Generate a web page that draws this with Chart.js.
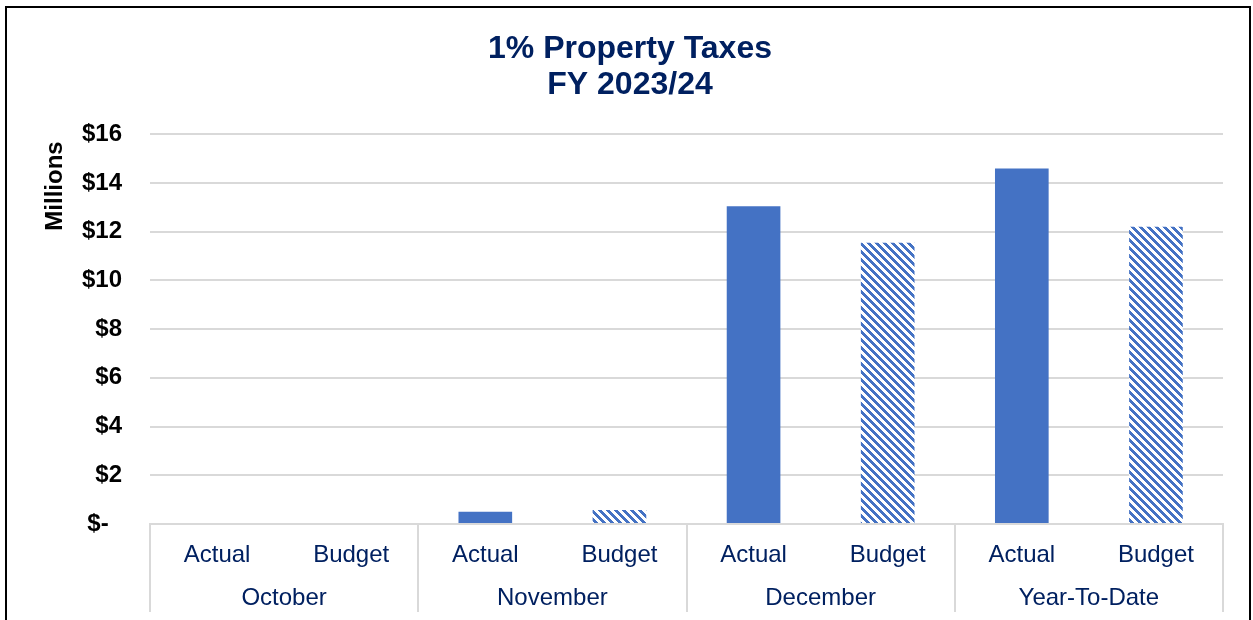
<!DOCTYPE html>
<html>
<head>
<meta charset="utf-8">
<script src="https://cdn.jsdelivr.net/npm/chart.js@4.4.1/dist/chart.umd.min.js"></script>
<style>
  html, body { margin: 0; padding: 0; background: #fff; }
  #wrap { position: relative; width: 1253px; height: 620px; overflow: hidden; }
  #frame {
    position: absolute; left: 5px; top: 6px; width: 1242px; height: 700px;
    border: 2px solid #000; pointer-events: none;
  }
</style>
</head>
<body>
<div id="wrap">
  <canvas id="taxChart"></canvas>
  <div id="frame"></div>
</div>
<script>
// Property tax receipts, in millions
const categories = ['Actual', 'Budget', 'Actual', 'Budget', 'Actual', 'Budget', 'Actual', 'Budget'];
const groups = ['October', 'November', 'December', 'Year-To-Date'];
const amounts = [0, 0, 0.5, 0.57, 13.05, 11.55, 14.6, 12.2];
const yMax = 16;
const yStep = 2;

const NAVY = '#002060';
const BAR_BLUE = '#4472C4';
const GRID = '#d9d9d9';
const FONT = "'Liberation Sans', Arial, sans-serif";

// downward diagonal hatch used for the budget bars
function makeHatch() {
    const size = 8;
    const c = document.createElement('canvas');
    c.width = size;
    c.height = size;
    const ctx = c.getContext('2d');
    ctx.fillStyle = '#fff';
    ctx.fillRect(0, 0, size, size);
    ctx.fillStyle = BAR_BLUE;
    for (let y = 0; y < size; y++) {
        for (let x = 0; x < size; x++) {
            if (((x - y) % size + size) % size < 4) ctx.fillRect(x, y, 1, 1);
        }
    }
    return ctx.createPattern(c, 'repeat');
}

const hatch = makeHatch();
const barColors = categories.map(c => c === 'Budget' ? hatch : BAR_BLUE);

// group labels, group separators and the rotated axis title
const axisExtras = {
    id: 'axisExtras',
    afterDraw(chart) {
        const ctx = chart.ctx;
        const x = chart.scales.x;
        const area = chart.chartArea;
        const slot = (x.getPixelForValue(1) - x.getPixelForValue(0));

        ctx.save();
        ctx.strokeStyle = GRID;
        ctx.lineWidth = 2;
        for (let i = 0; i <= groups.length; i++) {
            const px = Math.round(x.getPixelForValue(i * 2) - slot / 2);
            ctx.beginPath();
            ctx.moveTo(px, area.bottom);
            ctx.lineTo(px, 612);
            ctx.stroke();
        }

        ctx.fillStyle = NAVY;
        ctx.font = '24px ' + FONT;
        ctx.textAlign = 'center';
        ctx.textBaseline = 'middle';
        groups.forEach((g, i) => {
            const cx = (x.getPixelForValue(i * 2) + x.getPixelForValue(i * 2 + 1)) / 2;
            ctx.fillText(g, cx, 598);
        });

        ctx.translate(55, 186);
        ctx.rotate(-Math.PI / 2);
        ctx.fillStyle = '#000';
        ctx.font = 'bold 24px ' + FONT;
        ctx.fillText('Millions', 0, 0);
        ctx.restore();
    }
};

new Chart(document.getElementById('taxChart'), {
    type: 'bar',
    data: {
        labels: categories,
        datasets: [{
            data: amounts,
            backgroundColor: barColors,
            borderWidth: 0,
            barPercentage: 0.4,
            categoryPercentage: 1
        }]
    },
    options: {
        responsive: true,
        maintainAspectRatio: false,
        devicePixelRatio: 1,
        animation: false,
        layout: { padding: { left: 37, right: 30, top: 0, bottom: 0 } },
        plugins: {
            legend: { display: false },
            tooltip: { enabled: false },
            title: {
                display: true,
                text: ['1% Property Taxes', 'FY 2023/24'],
                color: NAVY,
                font: { family: FONT, size: 32, weight: 'bold', lineHeight: 1.13 },
                padding: { top: 31, bottom: 31 }
            }
        },
        scales: {
            x: {
                grid: { display: false },
                border: { display: true, color: GRID, width: 2 },
                ticks: {
                    color: NAVY,
                    font: { family: FONT, size: 24 },
                    padding: 9,
                    maxRotation: 0,
                    autoSkip: false
                },
                afterFit(scale) { scale.height = 96; }
            },
            y: {
                min: 0,
                max: yMax,
                grid: { color: GRID, lineWidth: 2, drawTicks: false },
                border: { display: false },
                ticks: {
                    stepSize: yStep,
                    color: '#000',
                    font: { family: FONT, size: 24, weight: 'bold' },
                    padding: 28,
                    callback: v => v === 0 ? '$-  ' : '$' + v
                },
                afterFit(scale) { scale.width = 113; }
            }
        }
    },
    plugins: [axisExtras]
});
</script>
</body>
</html>
